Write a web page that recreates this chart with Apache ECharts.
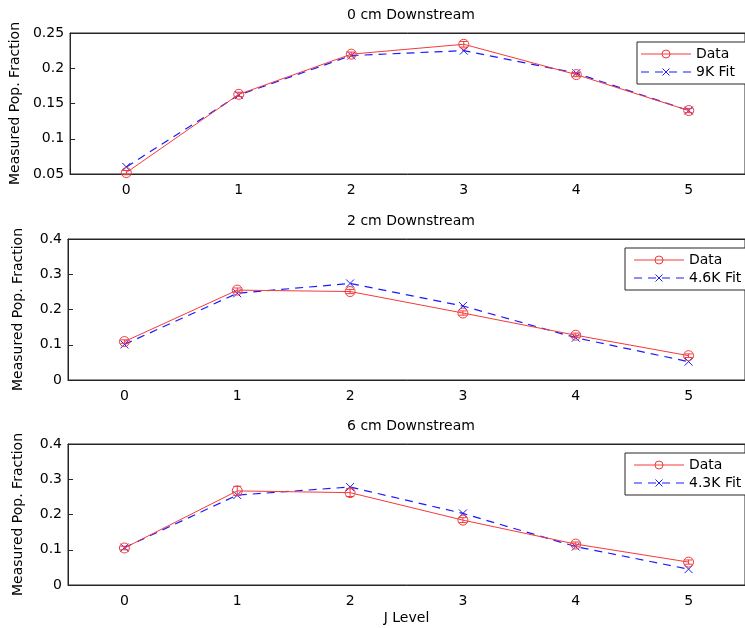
<!DOCTYPE html>
<html>
<head>
<meta charset="utf-8">
<script src="https://cdn.jsdelivr.net/npm/echarts@6/dist/echarts.min.js"></script>
<style>html,body{margin:0;padding:0;background:#fff}#c{width:745px;height:628px}</style>
</head>
<body>
<div id="c"></div>
<script>
const categories = ['0', '1', '2', '3', '4', '5'];
const titles = ['0 cm Downstream', '2 cm Downstream', '6 cm Downstream'];
const fitNames = ['9K Fit', '4.6K Fit', '4.3K Fit'];
const data0 = [0.052, 0.163, 0.220, 0.234, 0.191, 0.140];
const fit0  = [0.060, 0.162, 0.218, 0.225, 0.193, 0.140];
const err0  = [0.003, 0.003, 0.003, 0.004, 0.003, 0.003];
const data2 = [0.109, 0.255, 0.251, 0.190, 0.127, 0.069];
const fit2  = [0.101, 0.246, 0.274, 0.210, 0.120, 0.052];
const err2  = [0.005, 0.006, 0.006, 0.006, 0.006, 0.005];
const data6 = [0.105, 0.267, 0.262, 0.184, 0.116, 0.065];
const fit6  = [0.106, 0.255, 0.278, 0.203, 0.109, 0.045];
const err6  = [0.005, 0.013, 0.011, 0.007, 0.006, 0.006];
const yMin = [0.05, 0, 0];
const yMax = [0.25, 0.4, 0.4];
const yStep = [0.05, 0.1, 0.1];

const dataSets = [data0, data2, data6];
const fitSets = [fit0, fit2, fit6];
const errSets = [err0, err2, err6];

const FONT = 'DejaVu Sans';
const AX = '#262626';
const RED = '#f53a3a';
const BLUE = '#1a1aff';
const gridTops = [33, 239, 444];
const legendLefts = [637, 625, 625];
const legendPadL = [4, 9, 9];

const dataItemStyle = {color: 'rgba(0,0,0,0)', borderColor: RED, borderWidth: 1};
const dataLineStyle = {color: RED, width: 1};
const fitItemStyle = {color: 'rgba(0,0,0,0)', borderColor: BLUE, borderWidth: 1};
const fitLineStyle = {color: BLUE, width: 1.2, type: [8, 6]};

function legendBox(i) {
  const L = legendLefts[i], T = gridTops[i] + 9, H = 42;
  const x0 = L + legendPadL[i], x1 = x0 + 50, xm = (x0 + x1) / 2;
  const y1 = T + 12, y2 = T + 30;
  return {type: 'group', z: 100, children: [
    {type: 'rect', shape: {x: L, y: T, width: 200, height: H},
      style: {fill: '#fff', stroke: AX, lineWidth: 1}},
    {type: 'line', shape: {x1: x0, y1: y1, x2: x1, y2: y1}, style: {stroke: RED, lineWidth: 1}},
    {type: 'circle', shape: {cx: xm, cy: y1, r: 4}, style: {fill: 'none', stroke: RED, lineWidth: 1}},
    {type: 'text', x: x1 + 5, y: y1, style: {text: 'Data', fontFamily: FONT, fontSize: 14,
      fill: '#000', verticalAlign: 'middle'}},
    {type: 'line', shape: {x1: x0, y1: y2, x2: x1, y2: y2},
      style: {stroke: BLUE, lineWidth: 1.2, lineDash: [8, 6]}},
    {type: 'polyline', shape: {points: [[xm - 3.5, y2 - 3.5], [xm + 3.5, y2 + 3.5]]},
      style: {stroke: BLUE, lineWidth: 1}},
    {type: 'polyline', shape: {points: [[xm - 3.5, y2 + 3.5], [xm + 3.5, y2 - 3.5]]},
      style: {stroke: BLUE, lineWidth: 1}},
    {type: 'text', x: x1 + 5, y: y2, style: {text: fitNames[i], fontFamily: FONT, fontSize: 14,
      fill: '#000', verticalAlign: 'middle'}}
  ]};
}

const grids = [], xAxes = [], yAxes = [], series = [], title = [], graphic = [];
for (let i = 0; i < 3; i++) {
  grids.push({left: 68, top: gridTops[i], width: 686, height: 141, show: true,
    borderColor: AX, borderWidth: 1, backgroundColor: 'transparent', containLabel: false});
  title.push({text: titles[i], left: 411, textAlign: 'center', top: gridTops[i] - 25, padding: 0,
    textStyle: {fontFamily: FONT, fontSize: 14, fontWeight: 'normal', color: '#000'}});
  xAxes.push({type: 'category', gridIndex: i, data: categories, position: 'bottom',
    boundaryGap: true,
    axisLine: {lineStyle: {color: AX, width: 1}},
    axisTick: {inside: true, alignWithLabel: true, length: 5, lineStyle: {color: AX}},
    axisLabel: {fontFamily: FONT, fontSize: 14, color: '#000', margin: 9},
    splitLine: {show: false},
    name: i === 2 ? 'J Level' : '', nameLocation: 'middle', nameGap: 26,
    nameTextStyle: {fontFamily: FONT, fontSize: 14, color: '#000'}});
  xAxes.push({type: 'category', gridIndex: i, data: categories, position: 'top',
    boundaryGap: true,
    axisLine: {show: true, lineStyle: {color: AX, width: 1}},
    axisTick: {inside: true, alignWithLabel: true, length: 5, lineStyle: {color: AX}},
    axisLabel: {show: false}, splitLine: {show: false}});
  yAxes.push({type: 'value', gridIndex: i, min: yMin[i], max: yMax[i], interval: yStep[i],
    axisLine: {show: true, lineStyle: {color: AX, width: 1}},
    axisTick: {show: true, inside: true, length: 5, lineStyle: {color: AX}},
    axisLabel: {fontFamily: FONT, fontSize: 14, color: '#000', margin: 6},
    splitLine: {show: false},
    name: 'Measured Pop. Fraction', nameLocation: 'middle', nameGap: 43,
    nameTextStyle: {fontFamily: FONT, fontSize: 14, color: '#000'}});
  const xi = i * 2;
  series.push({type: 'line', name: 'Data', xAxisIndex: xi, yAxisIndex: i,
    data: dataSets[i], symbol: 'circle', symbolSize: 10, z: 3,
    lineStyle: dataLineStyle, itemStyle: dataItemStyle,
    emphasis: {disabled: true}, animation: false});
  series.push({type: 'custom', name: 'Data', xAxisIndex: xi, yAxisIndex: i,
    data: dataSets[i].map((v, k) => [k, v, errSets[i][k]]),
    renderItem: function (params, api) {
      const x = api.value(0), y = api.value(1), e = api.value(2);
      const hi = api.coord([x, y + e]);
      const lo = api.coord([x, y - e]);
      const w = 4;
      const st = {stroke: RED, lineWidth: 1};
      return {type: 'group', children: [
        {type: 'line', shape: {x1: hi[0], y1: hi[1], x2: lo[0], y2: lo[1]}, style: st},
        {type: 'line', shape: {x1: hi[0] - w, y1: hi[1], x2: hi[0] + w, y2: hi[1]}, style: st},
        {type: 'line', shape: {x1: lo[0] - w, y1: lo[1], x2: lo[0] + w, y2: lo[1]}, style: st}
      ]};
    }, z: 3, silent: true, animation: false});
  series.push({type: 'line', name: fitNames[i], xAxisIndex: xi, yAxisIndex: i,
    data: fitSets[i], symbol: 'path://M0,0L10,10M0,10L10,0', symbolSize: 8, z: 2,
    lineStyle: fitLineStyle, itemStyle: fitItemStyle,
    emphasis: {disabled: true}, animation: false});
  graphic.push(legendBox(i));
}

const chart = echarts.init(document.getElementById('c'), null, {renderer: 'canvas'});
chart.setOption({backgroundColor: '#fff', animation: false, title, grid: grids,
  xAxis: xAxes, yAxis: yAxes, series, graphic});
</script>
</body>
</html>
